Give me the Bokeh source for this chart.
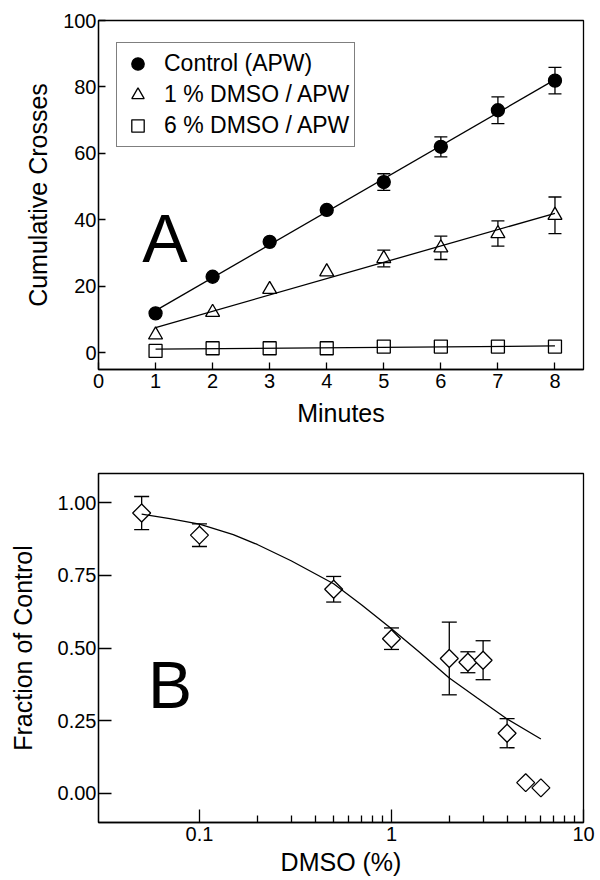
from bokeh.plotting import figure
from bokeh.models import (ColumnDataSource, Whisker, TeeHead, Legend, LegendItem,
                          FixedTicker, BasicTickFormatter, PrintfTickFormatter, Label, Range1d)
from bokeh.layouts import column
from bokeh.embed import file_html
from bokeh.resources import INLINE

FONT = "Liberation Sans"

# ---------------- Panel A data ----------------
minutes = [1, 2, 3, 4, 5, 6, 7, 8]
control = [11.9, 22.9, 33.4, 43.0, 51.4, 62.0, 73.0, 81.9]
control_err = [0, 0, 0, 0, 2.5, 3.0, 4.0, 4.0]
dmso1 = [5.4, 12.2, 19.1, 24.4, 28.4, 31.6, 35.9, 41.4]
dmso1_err = [0, 0, 0, 0, 2.5, 3.5, 3.8, 5.5]
dmso6 = [0.6, 1.4, 1.4, 1.4, 1.9, 1.9, 1.9, 1.9]
fit_minutes = [1, 8]
control_fit = [12.7, 82.2]
dmso1_fit = [7.6, 42.0]
dmso6_fit = [1.1, 2.1]
xticks_a = [0, 1, 2, 3, 4, 5, 6, 7, 8]
yticks_a = [0, 20, 40, 60, 80, 100]

# ---------------- Panel B data ----------------
dmso_pct = [0.05, 0.1, 0.5, 1.0, 2.0, 2.5, 3.0, 4.0, 5.0, 6.0]
fraction = [0.964, 0.888, 0.702, 0.532, 0.464, 0.451, 0.458, 0.207, 0.037, 0.019]
fraction_err = [0.057, 0.039, 0.044, 0.037, 0.125, 0.036, 0.067, 0.050, 0, 0]
curve_x = [0.05, 0.07, 0.1, 0.15, 0.2, 0.3, 0.5, 0.7, 1.0, 1.4, 2.0, 2.8, 4.0, 6.0]
curve_y = [0.960, 0.945, 0.926, 0.890, 0.856, 0.800, 0.721, 0.648, 0.566, 0.485, 0.397, 0.328, 0.256, 0.187]
xticks_b = [0.1, 1, 10]
xminor_b = [0.2, 0.3, 0.4, 0.5, 0.6, 0.7, 0.8, 0.9, 2, 3, 4, 5, 6, 7, 8, 9]
yticks_b = [0.0, 0.25, 0.5, 0.75, 1.0]

LW = 1.3


def style(p, tick_in, minor_in=0):
    p.grid.visible = False
    p.outline_line_color = "black"
    p.outline_line_width = LW
    p.background_fill_color = "white"
    p.border_fill_color = "white"
    for ax in (p.xaxis, p.yaxis):
        ax.axis_line_color = "black"
        ax.axis_line_width = LW
        ax.major_tick_in = tick_in
        ax.major_tick_out = 0
        ax.major_tick_line_width = LW
        ax.major_tick_line_color = "black"
        ax.minor_tick_in = minor_in
        ax.minor_tick_out = 0
        ax.minor_tick_line_width = LW
        ax.minor_tick_line_color = "black" if minor_in else None
        ax.major_label_text_font = FONT
        ax.major_label_text_font_size = "20px"
        ax.major_label_text_color = "black"
        ax.axis_label_text_font = FONT
        ax.axis_label_text_font_size = "25px"
        ax.axis_label_text_font_style = "normal"
        ax.axis_label_text_color = "black"
    p.xaxis.major_label_standoff = 4
    p.yaxis.major_label_standoff = 2


def add_err(p, x, y, e, head):
    xs, lo, hi = [], [], []
    for xi, yi, ei in zip(x, y, e):
        if ei > 0:
            xs.append(xi)
            lo.append(yi - ei)
            hi.append(yi + ei)
    src = ColumnDataSource(dict(x=xs, lower=lo, upper=hi))
    w = Whisker(source=src, base="x", lower="lower", upper="upper",
                line_color="black", line_width=LW, level="underlay",
                upper_head=TeeHead(size=head, line_color="black", line_width=LW),
                lower_head=TeeHead(size=head, line_color="black", line_width=LW))
    p.add_layout(w)


# ================= Panel A =================
pA = figure(width=600, height=448, x_range=Range1d(0, 8.5), y_range=Range1d(-5, 100),
            output_backend="svg", toolbar_location=None,
            min_border_left=98, min_border_right=17, min_border_top=20, min_border_bottom=79)
style(pA, 7)
pA.xaxis.ticker = FixedTicker(ticks=xticks_a)
pA.yaxis.ticker = FixedTicker(ticks=yticks_a)
pA.xaxis.axis_label = "Minutes"
pA.yaxis.axis_label = "Cumulative Crosses"
pA.xaxis.axis_label_standoff = 8
pA.yaxis.axis_label_standoff = 8

add_err(pA, minutes, control, control_err, 13)
add_err(pA, minutes, dmso1, dmso1_err, 13)

r_ctrl = pA.scatter(minutes, control, marker="circle", size=13,
                    fill_color="black", line_color="black", line_width=LW)
r_d1 = pA.scatter(minutes, dmso1, marker="triangle", size=14,
                  fill_color="white", line_color="black", line_width=LW)
r_d6 = pA.scatter(minutes, dmso6, marker="square", size=13,
                  fill_color="white", line_color="black", line_width=LW)
pA.line(fit_minutes, control_fit, line_color="black", line_width=LW)
pA.line(fit_minutes, dmso1_fit, line_color="black", line_width=LW)
pA.line(fit_minutes, dmso6_fit, line_color="black", line_width=LW)

legend = Legend(items=[LegendItem(label="Control (APW)", renderers=[r_ctrl]),
                       LegendItem(label="1 % DMSO / APW", renderers=[r_d1]),
                       LegendItem(label="6 % DMSO / APW", renderers=[r_d6])],
                location=(18, 222), orientation="vertical",
                border_line_color="black", border_line_width=LW,
                background_fill_color="white", background_fill_alpha=1.0,
                padding=5, spacing=0, margin=0,
                glyph_height=31, glyph_width=31, label_standoff=11,
                label_text_font=FONT, label_text_font_size="23px",
                label_text_color="black")
pA.add_layout(legend)

pA.add_layout(Label(x=0.765, y=34.7, text="A", text_font=FONT, text_font_size="68px",
                    text_align="left", text_baseline="alphabetic", text_color="black"))

# ================= Panel B =================
pB = figure(width=600, height=432, x_axis_type="log",
            x_range=Range1d(0.0298, 10), y_range=Range1d(-0.1, 1.1),
            output_backend="svg", toolbar_location=None,
            min_border_left=93, min_border_right=11, min_border_top=25, min_border_bottom=58)
style(pB, 13, 7)
pB.xaxis.ticker = FixedTicker(ticks=xticks_b, minor_ticks=xminor_b)
pB.xaxis.formatter = BasicTickFormatter()
pB.yaxis.ticker = FixedTicker(ticks=yticks_b)
pB.yaxis.formatter = PrintfTickFormatter(format="%.2f")
pB.yaxis.minor_tick_line_color = None
pB.xaxis.axis_label = "DMSO (%)"
pB.yaxis.axis_label = "Fraction of Control"
pB.xaxis.axis_label_standoff = 4
pB.yaxis.axis_label_standoff = 18

add_err(pB, dmso_pct, fraction, fraction_err, 15)
pB.scatter(dmso_pct, fraction, marker="square", angle=0.785398, size=12.7,
           fill_color="white", line_color="black", line_width=LW)
pB.line(curve_x, curve_y, line_color="black", line_width=LW)

pB.add_layout(Label(x=0.054, y=0.373, text="B", text_font=FONT, text_font_size="66px",
                    text_align="left", text_baseline="alphabetic", text_color="black"))

layout = column(pA, pB, spacing=0)
open("out.html", "w").write(file_html(layout, INLINE))
